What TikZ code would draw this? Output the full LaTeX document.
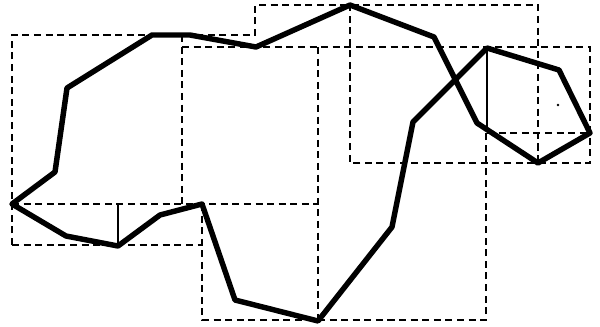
\documentclass[tikz,border=0pt]{standalone}
\usepackage{tikz}

\begin{document}
\begin{tikzpicture}[x=0.02cm,y=-0.02cm,
  cell/.style={draw=black,line width=1.1pt,dash pattern=on 4pt off 2.6pt},
  split/.style={draw=black,line width=0.8pt},
  contour/.style={draw=black,line width=3.1pt,line join=round}
]
\useasboundingbox (0,0) rectangle (600,326);
% dashed cells
\draw[cell] (12,245) -- (12,35) -- (255,35) -- (255,5) -- (538,5) -- (538,163);
\draw[cell] (182,35) -- (182,204);
\draw[cell] (182,47) -- (590,47) -- (590,163) -- (350,163) -- (350,5);
\draw[cell] (12,204) -- (318,204);
\draw[cell] (12,245) -- (202,245);
\draw[cell] (202,204) -- (202,320) -- (486,320) -- (486,128);
\draw[cell] (318,47) -- (318,320);
\draw[cell] (487,133) -- (590,133);
% solid splits
\draw[split] (118,204) -- (118,245);
\draw[split] (487,48) -- (487,128);
% the contour
\coordinate (p1) at (12,204);
\coordinate (p7) at (350,5);
\coordinate (p13) at (487,48);
\coordinate (p18) at (202,204);
\draw[contour] (p1) -- (55,172) -- (67,88) -- (152,35) -- (190,35) -- (256,47)
  -- (p7) -- (434,37) -- (477,123) -- (538,163) -- (590,133) -- (559,70)
  -- (p13) -- (413,122) -- (392,227) -- (318,321) -- (235,300)
  -- (p18) -- (160,215) -- (118,246) -- (66,236) -- cycle;
\fill (558,105) circle (1.4);
\end{tikzpicture}
\end{document}
